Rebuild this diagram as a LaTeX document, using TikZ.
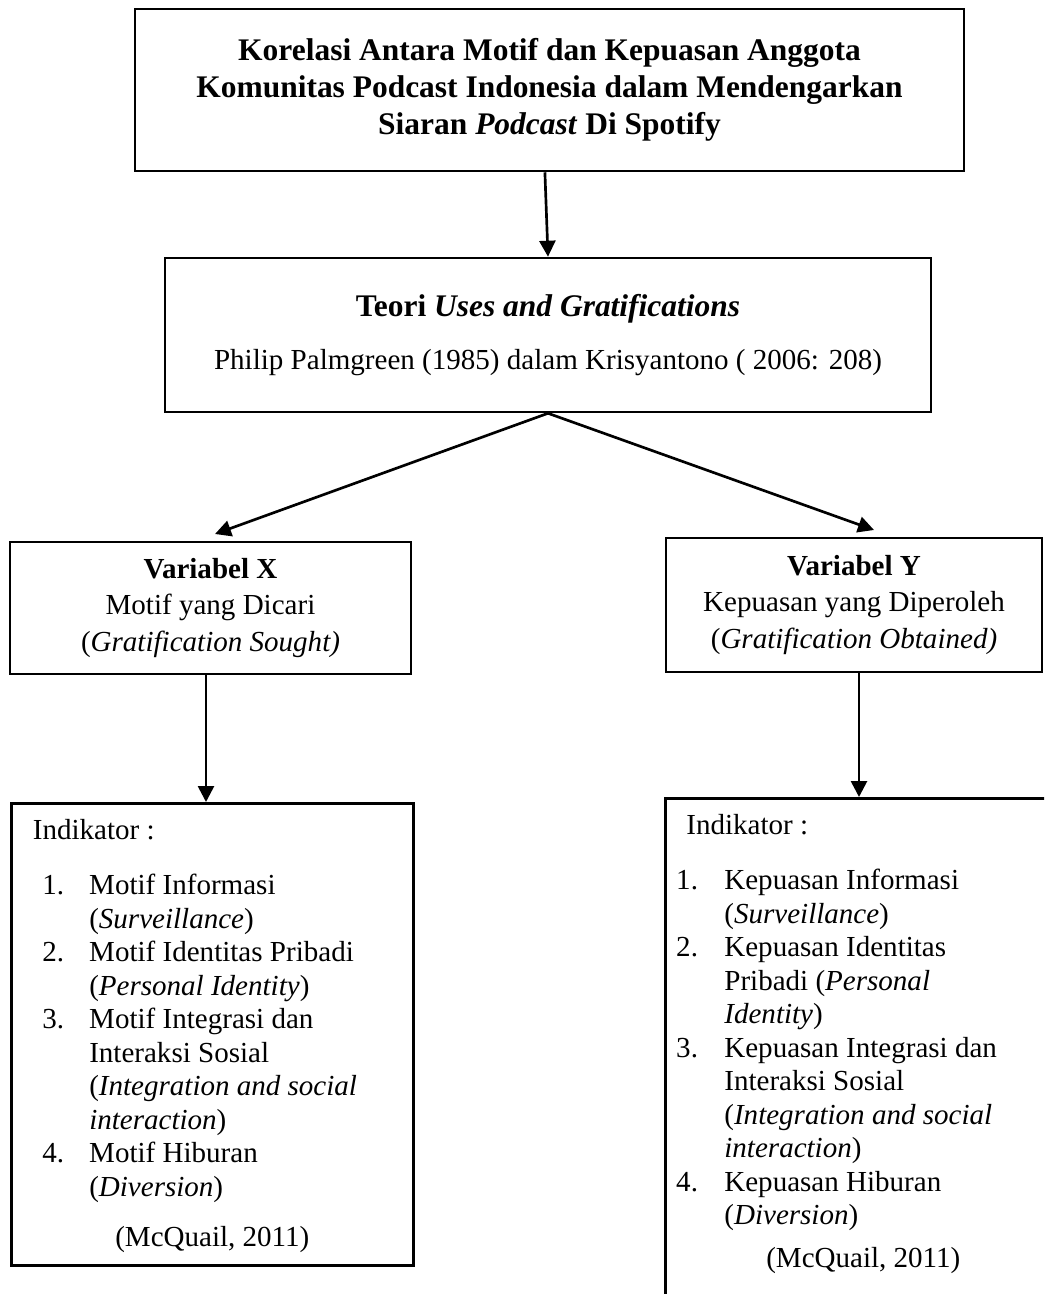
\documentclass[tikz,border=0pt]{standalone}
\usepackage{fontspec}
\setmainfont{Liberation Serif}
\usepackage{tikz}
\usetikzlibrary{arrows.meta}

\begin{document}
\begin{tikzpicture}[x=0.4132pt,y=-0.4132pt,
    box/.style={draw,line width=1.1pt,inner sep=0pt,align=center},
    listBox/.style={draw,line width=1.1pt,inner sep=0pt,anchor=north west,
      font=\fontsize{12}{13.85}\selectfont},
    arrowLine/.style={line width=1.1pt,-{Triangle[length=6.6pt,width=6.6pt]}}]
  \clip (0,0) rectangle (1044,1294);
  %points
  \coordinate (tipX) at (215,534);
  \coordinate (tipY) at (874,530);
  \coordinate (downX) at (206,0);
  \coordinate (downY) at (859,0);
  %title and theory
  \node[box,minimum width=342.5pt,minimum height=66.9pt,
    font=\bfseries\fontsize{13}{15.3}\selectfont] (titleBox) at (549.5,90)
    {Korelasi Antara Motif dan Kepuasan Anggota\\
     Komunitas Podcast Indonesia dalam Mendengarkan\\
     Siaran \textit{Podcast} Di Spotify};
  \node[box,minimum width=316.5pt,minimum height=63.6pt,
    font=\fontsize{12}{21.9}\selectfont] (theoryBox) at (548,335)
    {{\fontsize{13}{21.9}\selectfont\bfseries Teori \textit{Uses and Gratifications}}\\
     Philip Palmgreen (1985) dalam Krisyantono ( 2006: 208)};
  %variables
  \node[box,minimum width=165.7pt,minimum height=54.5pt,
    font=\fontsize{12}{14.9}\selectfont] (varX) at (210.5,608)
    {\textbf{Variabel X}\\Motif yang Dicari\\(\textit{Gratification Sought)}};
  \node[box,minimum width=155.4pt,minimum height=55.4pt,
    font=\fontsize{12}{14.9}\selectfont] (varY) at (854,605)
    {\textbf{Variabel Y}\\Kepuasan yang Diperoleh\\(\textit{Gratification Obtained)}};
  %indicators
  \node[listBox] (indicatorX) at (10,802)
    {\begin{minipage}[t][190.9pt][t]{166.1pt}
     \vspace*{6.6pt}
     \hspace*{8.9pt}Indikator :\\[8.9pt]
     \hspace*{12.8pt}\makebox[19.4pt][l]{1.}Motif Informasi\\
     \hspace*{32.2pt}(\textit{Surveillance})\\
     \hspace*{12.8pt}\makebox[19.4pt][l]{2.}Motif Identitas Pribadi\\
     \hspace*{32.2pt}(\textit{Personal Identity})\\
     \hspace*{12.8pt}\makebox[19.4pt][l]{3.}Motif Integrasi dan\\
     \hspace*{32.2pt}Interaksi Sosial\\
     \hspace*{32.2pt}(\textit{Integration and social}\\
     \hspace*{32.2pt}\textit{interaction})\\
     \hspace*{12.8pt}\makebox[19.4pt][l]{4.}Motif Hiburan\\
     \hspace*{32.2pt}(\textit{Diversion})\\[6.8pt]
     \makebox[\linewidth]{(McQuail, 2011)}
     \end{minipage}};
  \node[listBox] (indicatorY) at (664,797)
    {\begin{minipage}[t][224.4pt][t]{163.6pt}
     \vspace*{6.6pt}
     \hspace*{8.7pt}Indikator :\\[8.9pt]
     \hspace*{4.5pt}\makebox[19.9pt][l]{1.}Kepuasan Informasi\\
     \hspace*{24.4pt}(\textit{Surveillance})\\
     \hspace*{4.5pt}\makebox[19.9pt][l]{2.}Kepuasan Identitas\\
     \hspace*{24.4pt}Pribadi (\textit{Personal}\\
     \hspace*{24.4pt}\textit{Identity})\\
     \hspace*{4.5pt}\makebox[19.9pt][l]{3.}Kepuasan Integrasi dan\\
     \hspace*{24.4pt}Interaksi Sosial\\
     \hspace*{24.4pt}(\textit{Integration and social}\\
     \hspace*{24.4pt}\textit{interaction})\\
     \hspace*{4.5pt}\makebox[19.9pt][l]{4.}Kepuasan Hiburan\\
     \hspace*{24.4pt}(\textit{Diversion})\\[3.9pt]
     \makebox[\linewidth]{(McQuail, 2011)}
     \end{minipage}};
  %arrows
  \draw[arrowLine] ([xshift=-1.9pt]titleBox.south) -- (theoryBox.north);
  \draw[arrowLine] (theoryBox.south) -- (tipX);
  \draw[arrowLine] (theoryBox.south) -- (tipY);
  \draw[arrowLine] (varX.south -| downX) -- (indicatorX.north -| downX);
  \draw[arrowLine] (varY.south -| downY) -- (indicatorY.north -| downY);
\end{tikzpicture}
\end{document}
